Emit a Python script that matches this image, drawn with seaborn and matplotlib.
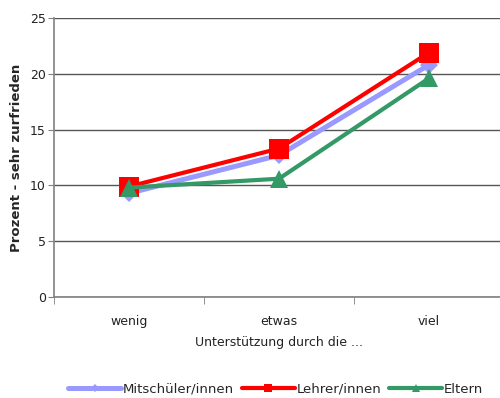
import numpy as np
import pandas as pd
import matplotlib
matplotlib.use("Agg")
import matplotlib.pyplot as plt
import seaborn as sns

# data
categories = ["wenig", "etwas", "viel"]
mitschueler = [9.3, 12.7, 20.8]
lehrer = [9.9, 13.3, 21.9]
eltern = [9.8, 10.6, 19.6]

series_names = ["Mitschüler/innen", "Lehrer/innen", "Eltern"]

sns.set_style("white")
plt.rcParams["font.family"] = ["DejaVu Sans"]

fig = plt.figure(figsize=(5, 3.98), dpi=100)
ax = fig.add_axes([54 / 500, 101 / 398, 450 / 500, 279 / 398])

styles = [
    dict(color="#9999FF", marker="D", markersize=9, linewidth=3.6),
    dict(color="#FF0000", marker="s", markersize=14, linewidth=3),
    dict(color="#339966", marker="^", markersize=13, linewidth=3),
]

for name, vals, st in zip(series_names, [mitschueler, lehrer, eltern], styles):
    sns.lineplot(x=categories, y=vals, ax=ax, label=name,
                 markeredgewidth=0, **st)

ax.set_ylim(0, 25)
ax.set_yticks(range(0, 26, 5))
ax.set_xlim(-0.5, 2.5)
ax.yaxis.grid(True, color="#555555", linewidth=1)
ax.set_axisbelow(True)

for s in ["top", "right"]:
    ax.spines[s].set_visible(False)
for s in ["left", "bottom"]:
    ax.spines[s].set_color("#808080")
    ax.spines[s].set_linewidth(1.2)

ax.tick_params(axis="y", which="major", length=4, color="#808080",
               labelsize=9, labelcolor="#222222", left=True, pad=2)
ax.tick_params(axis="x", which="major", length=0, labelsize=9,
               labelcolor="#222222", pad=13)
ax.set_xticks([-0.5, 0.5, 1.5, 2.5], minor=True)
ax.tick_params(axis="x", which="minor", length=5, color="#808080",
               bottom=True)

ax.set_ylabel("Prozent - sehr zurfrieden", fontsize=9.5, fontweight="bold",
              labelpad=5)
ax.set_xlabel("Unterstützung durch die ...", fontsize=9, color="#222222",
              labelpad=6)

ax.legend(loc="center", bbox_to_anchor=(0.493, -0.33), ncol=3, frameon=False,
          fontsize=9.5, handlelength=4.0, handletextpad=0.15, columnspacing=0.6,
          markerscale=0.45)

fig.savefig("out.png", dpi=100)
